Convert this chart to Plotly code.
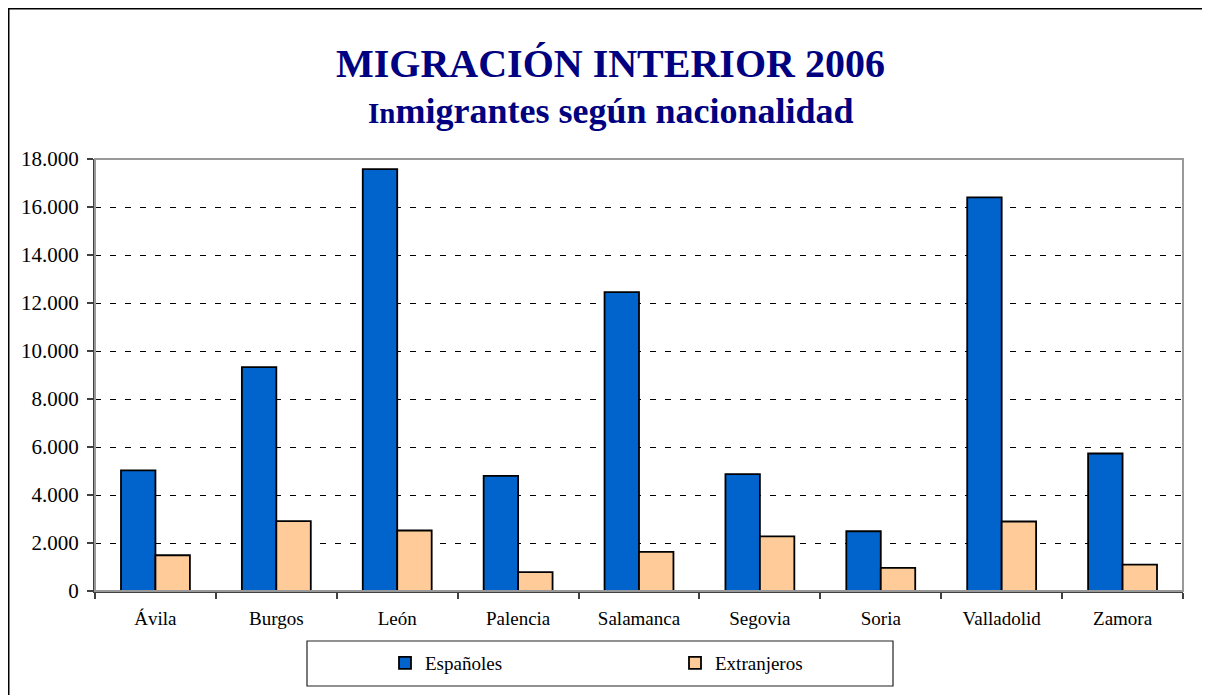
import plotly.graph_objects as go

# === datos ===
provincias = ["Ávila", "Burgos", "León", "Palencia", "Salamanca",
              "Segovia", "Soria", "Valladolid", "Zamora"]
espanoles = [5030, 9330, 17580, 4800, 12450, 4870, 2490, 16400, 5730]
extranjeros = [1490, 2910, 2520, 790, 1630, 2280, 960, 2895, 1100]
y_ticks = [0, 2000, 4000, 6000, 8000, 10000, 12000, 14000, 16000, 18000]

FONT = "Liberation Serif, Times New Roman, serif"
OFF = 8  # margen del body de la página
W, H = 1202, 687
L, R, T, B = 87, 27, 151, 104
pw, ph = W - L - R, H - T - B


def px_x(p):
    # posición en la página -> coordenada paper
    return (p - OFF - L) / pw


def px_y(p):
    return (H - B - (p - OFF)) / ph


fig = go.Figure()

fig.add_trace(go.Bar(x=provincias, y=espanoles, name="Españoles",
                     marker=dict(color="#0064CC", line=dict(color="black", width=1.8))))
fig.add_trace(go.Bar(x=provincias, y=extranjeros, name="Extranjeros",
                     marker=dict(color="#FFCC99", line=dict(color="black", width=1.8))))

# marco exterior y cajas
shapes = [
    dict(type="rect", xref="paper", yref="paper", x0=0, x1=1, y0=0, y1=1,
         line=dict(color="#999999", width=2), layer="above"),
    dict(type="rect", xref="paper", yref="paper",
         x0=px_x(8.5), x1=px_x(1203), y0=px_y(730), y1=px_y(8.5),
         line=dict(color="black", width=2)),
    dict(type="rect", xref="paper", yref="paper",
         x0=px_x(307), x1=px_x(893), y0=px_y(686), y1=px_y(641),
         line=dict(color="#222222", width=1.2)),
]

annotations = [
    dict(text="<b>MIGRACIÓN INTERIOR 2006</b>", xref="paper", yref="paper",
         x=px_x(610), y=px_y(64), xanchor="center", yanchor="middle", showarrow=False,
         font=dict(family=FONT, size=40, color="#000080")),
    dict(text="<b><span style='font-size:29px'>In</span>migrantes según nacionalidad</b>",
         xref="paper", yref="paper", x=px_x(611), y=px_y(111),
         xanchor="center", yanchor="middle", showarrow=False,
         font=dict(family=FONT, size=36, color="#000080")),
]

fig.update_layout(
    width=W, height=H,
    margin=dict(l=L, r=R, t=T, b=B),
    paper_bgcolor="white", plot_bgcolor="white",
    font=dict(family=FONT, size=19, color="black"),
    barmode="group", bargap=0.43, bargroupgap=0,
    separators=",.",
    shapes=shapes, annotations=annotations,
    showlegend=True,
    legend=dict(orientation="h", x=px_x(385), y=px_y(663), xanchor="left", yanchor="middle",
                entrywidth=245, bgcolor="rgba(0,0,0,0)",
                font=dict(family=FONT, size=19, color="black")),
)

fig.update_xaxes(showline=True, linecolor="#404040", linewidth=2,
                 ticks="outside", tickson="boundaries", ticklen=6, tickcolor="#404040",
                 tickwidth=1.5, showgrid=False, ticklabelstandoff=9)
fig.update_yaxes(range=[0, 18000], tickvals=y_ticks, tickformat=",d",
                 tickfont=dict(family=FONT, size=21),
                 showline=True, linecolor="#404040", linewidth=2,
                 ticks="outside", ticklen=6, tickcolor="#404040", tickwidth=1.5,
                 showgrid=True, gridcolor="black", gridwidth=1, griddash="6px,9px",
                 zeroline=False, ticklabelstandoff=4)

fig.write_html("out.html")
